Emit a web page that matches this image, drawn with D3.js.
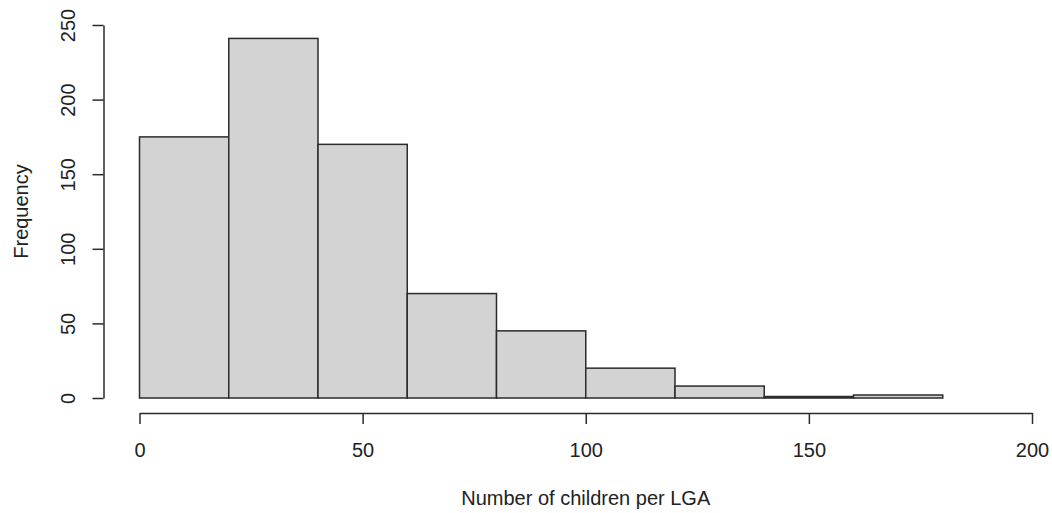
<!DOCTYPE html>
<html>
<head>
<meta charset="utf-8">
<script src="https://cdn.jsdelivr.net/npm/d3@7"></script>
<style>
  body { margin: 0; background: #fff; }
  text { font-family: "Liberation Sans", Arial, sans-serif; fill: #222; }
</style>
</head>
<body>
<div id="chart"></div>
<script>
var width  = 1052;
var height = 513;

// histogram bins (left edges) and counts
var binStarts = [0, 20, 40, 60, 80, 100, 120, 140, 160];
var binWidth  = 20;
var counts    = [175, 241, 170, 70, 45, 20, 8, 1, 2];
var xTicks    = [0, 50, 100, 150, 200];
var yTicks    = [0, 50, 100, 150, 200, 250];

var xLabel = "Number of children per LGA";
var yLabel = "Frequency";

var data = binStarts.map(function (b, i) {
  return {x0: b, x1: b + binWidth, n: counts[i]};
});

var x = d3.scaleLinear().domain([0, 200]).range([139.5, 1032]);
var y = d3.scaleLinear().domain([0, 250]).range([398, 25]);

var svg = d3.select("#chart").append("svg")
      .attr("width", width)
      .attr("height", height);

// bars
svg.selectAll("rect.bar")
  .data(data)
  .enter()
  .append("rect")
  .attr("class", "bar")
  .attr("x", function (d) { return x(d.x0); })
  .attr("y", function (d) { return y(d.n); })
  .attr("width", function (d) { return x(d.x1) - x(d.x0); })
  .attr("height", function (d) { return y(0) - y(d.n); })
  .style("fill", "#d3d3d3")
  .style("stroke", "#2b2b2b")
  .style("stroke-width", 1.5);

// x axis
var gx = svg.append("g")
  .attr("transform", "translate(0,413)")
  .call(d3.axisBottom(x).tickValues(xTicks).tickSize(11).tickSizeOuter(0));
gx.selectAll("path, line").style("stroke", "#2b2b2b").style("stroke-width", 1.5);
gx.selectAll("text")
  .attr("y", 44)
  .attr("dy", 0)
  .style("font-size", "20px").style("fill", "#222")
  .style("font-family", "'Liberation Sans', Arial, sans-serif");

// y axis
var gy = svg.append("g")
  .attr("transform", "translate(103.5,0)")
  .call(d3.axisLeft(y).tickValues(yTicks).tickSize(11).tickSizeOuter(0));
gy.selectAll("path, line").style("stroke", "#2b2b2b").style("stroke-width", 1.5);
gy.selectAll("text")
  .attr("transform", "rotate(-90)")
  .attr("x", 0)
  .attr("y", -28.5)
  .attr("dy", 0)
  .style("text-anchor", "middle")
  .style("font-size", "20px").style("fill", "#222")
  .style("font-family", "'Liberation Sans', Arial, sans-serif");

// axis titles
svg.append("text")
  .attr("x", (x(0) + x(200)) / 2)
  .attr("y", 505)
  .attr("text-anchor", "middle")
  .style("font-size", "20px")
  .text(xLabel);

svg.append("text")
  .attr("transform", "translate(28," + ((y(0) + y(250)) / 2) + ") rotate(-90)")
  .attr("text-anchor", "middle")
  .style("font-size", "20px")
  .text(yLabel);
</script>
</body>
</html>
